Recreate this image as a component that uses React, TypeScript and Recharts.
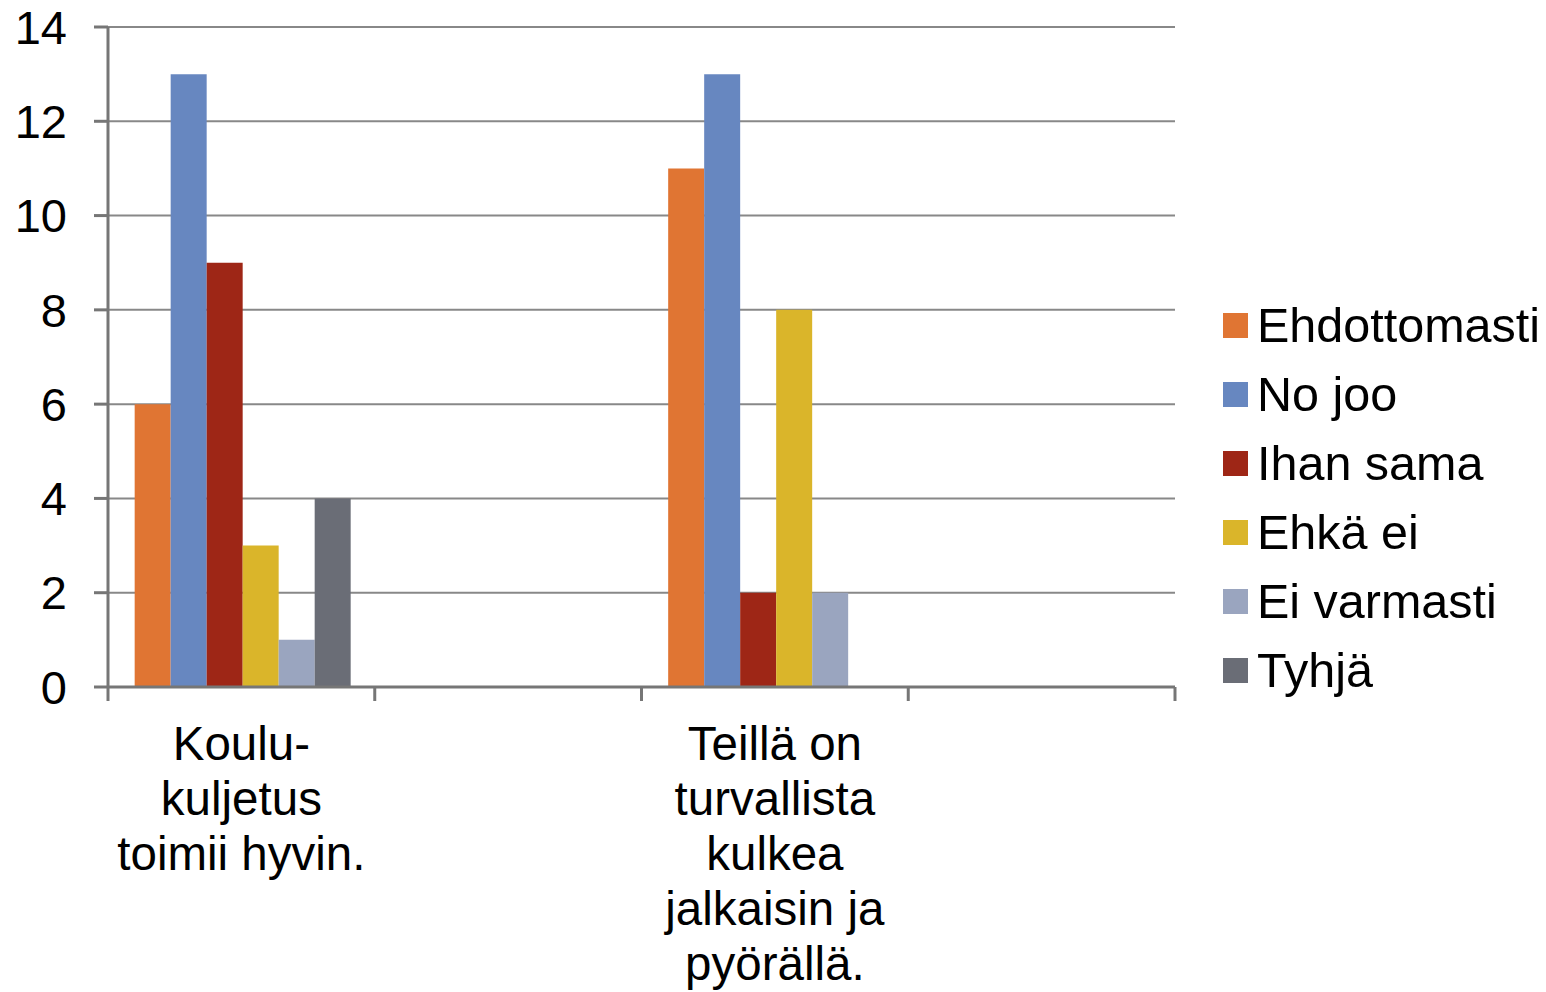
import React from "react";
import { BarChart, Bar, XAxis, YAxis, CartesianGrid } from "recharts";

const categories = [
  "Koulu-\nkuljetus\ntoimii hyvin.",
  "",
  "Teillä on\nturvallista\nkulkea\njalkaisin ja\npyörällä.",
  "",
];

const seriesNames = ["Ehdottomasti", "No joo", "Ihan sama", "Ehkä ei", "Ei varmasti", "Tyhjä"];
const seriesColors = ["#E07533", "#6787C0", "#9E2616", "#DAB52A", "#9AA5BF", "#6A6D76"];

const ehdottomasti = [6, null, 11, null];
const noJoo = [13, null, 13, null];
const ihanSama = [9, null, 2, null];
const ehkaEi = [3, null, 8, null];
const eiVarmasti = [1, null, 2, null];
const tyhja = [4, null, 0, null];

const seriesValues = [ehdottomasti, noJoo, ihanSama, ehkaEi, eiVarmasti, tyhja];
const yTicks = [0, 2, 4, 6, 8, 10, 12, 14];

const data = categories.map((name, i) => {
  const row: Record<string, string | number | null> = { name, key: `c${i}` };
  seriesNames.forEach((s, j) => {
    row[s] = seriesValues[j][i];
  });
  return row;
});

const FONT = "'Liberation Sans', Arial, sans-serif";
const AXIS = "#767676";
const GRID = "#888888";

const W = 1546;
const H = 992;
const MARGIN = { top: 27, right: 371, left: 0, bottom: 0 };
const Y_WIDTH = 108;

function CategoryTick(props: any) {
  const { x, y, payload, index } = props;
  const half =
    payload && payload.offset ? payload.offset : (W - MARGIN.right - Y_WIDTH) / categories.length / 2;
  const lines = String(categories[index] ?? "").split("\n").filter((l) => l.length);
  return (
    <g>
      <line x1={x - half} x2={x - half} y1={y} y2={y + 14} stroke={AXIS} strokeWidth={3} />
      {index === categories.length - 1 && (
        <line x1={x + half} x2={x + half} y1={y} y2={y + 14} stroke={AXIS} strokeWidth={3} />
      )}
      <text x={x} y={y + 73} textAnchor="middle" fontSize={47.5} fontFamily={FONT} fill="#000">
        {lines.map((l, i) => (
          <tspan key={i} x={x} dy={i === 0 ? 0 : 55}>
            {l}
          </tspan>
        ))}
      </text>
    </g>
  );
}

export default function App() {
  return (
    <div style={{ position: "absolute", left: 0, top: 0, width: W, height: H, background: "#fff" }}>
      <BarChart
        width={W}
        height={H}
        data={data}
        margin={MARGIN}
        barCategoryGap="10%"
        barGap={0}
      >
        <CartesianGrid vertical={false} stroke={GRID} strokeWidth={2} />
        <XAxis
          dataKey="key"
          height={H - MARGIN.top - 660}
          axisLine={{ stroke: AXIS, strokeWidth: 3 }}
          tickLine={false}
          tickSize={0}
          tickMargin={0}
          interval={0}
          tick={<CategoryTick />}
        />
        <YAxis
          width={Y_WIDTH}
          domain={[0, 14]}
          ticks={yTicks}
          interval={0}
          axisLine={{ stroke: AXIS, strokeWidth: 3 }}
          tickLine={{ stroke: AXIS, strokeWidth: 3 }}
          tickSize={14}
          tickMargin={27}
          tick={{ fill: "#000", fontSize: 47, fontFamily: FONT }}
        />
        {seriesNames.map((s, j) => (
          <Bar key={s} dataKey={s} fill={seriesColors[j]} isAnimationActive={false} />
        ))}
      </BarChart>
      <div
        style={{
          position: "absolute",
          left: 1223,
          top: 325 - 34.5,
          fontFamily: FONT,
          fontSize: 48.5,
          color: "#000",
        }}
      >
        {seriesNames.map((s, j) => (
          <div key={s} style={{ display: "flex", alignItems: "center", height: 69, whiteSpace: "nowrap" }}>
            <span style={{ width: 25, height: 25, background: seriesColors[j], display: "inline-block" }} />
            <span style={{ marginLeft: 9, lineHeight: "69px" }}>{s}</span>
          </div>
        ))}
      </div>
    </div>
  );
}
